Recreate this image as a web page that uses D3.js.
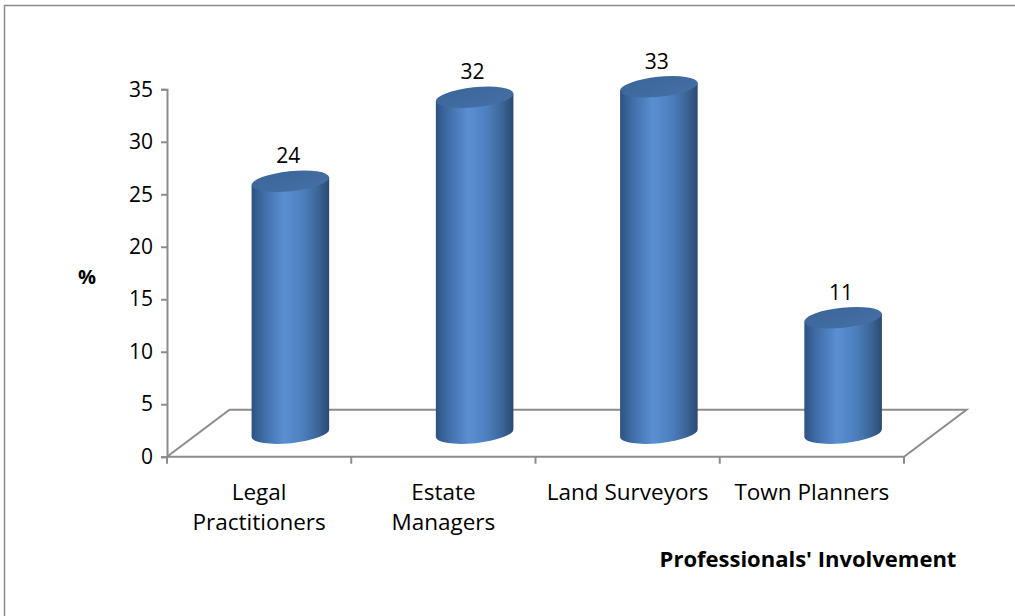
<!DOCTYPE html>
<html>
<head>
<meta charset="utf-8">
<script src="https://cdn.jsdelivr.net/npm/d3@7"></script>
<style>
body { margin:0; background:#fff; }
text { font-family: "Open Sans", "Noto Sans", sans-serif; fill:#000; }
</style>
</head>
<body>
<svg id="chart"></svg>
<script>
var categories = [["Legal", "Practitioners"], ["Estate", "Managers"], ["Land Surveyors"], ["Town Planners"]];
var values = [24, 32, 33, 11];
var yTicks = [0, 5, 10, 15, 20, 25, 30, 35];

var screen = {width:1015, height:616};
var svg = d3.select("#chart")
  .attr("width", screen.width)
  .attr("height", screen.height);

// outer frame
svg.append("rect")
  .attr("x", 4.5).attr("y", 5.5)
  .attr("width", 1100).attr("height", 700)
  .attr("fill", "none").attr("stroke", "#8a8a8a").attr("stroke-width", 1.5);

var plot = {left:167, right:904, top:89.3, bottom:456.7};
var depth = {dx:62.5, dy:-47};

var xScale = d3.scaleBand()
  .domain(d3.range(categories.length))
  .range([plot.left, plot.right]);

var yScale = d3.scaleLinear()
  .domain([0, 35])
  .range([plot.bottom, plot.top]);

// gradients
var defs = svg.append("defs");
var bodyGrad = defs.append("linearGradient").attr("id", "bodyGrad")
  .attr("x1", "0").attr("x2", "1").attr("y1", "0").attr("y2", "0");
[["0", "#2d5283"], ["0.15", "#3f6ca5"], ["0.42", "#5a8fd3"], ["0.65", "#4e80c0"], ["0.85", "#3c6699"], ["1", "#2b4a72"]]
  .forEach(function(s) { bodyGrad.append("stop").attr("offset", s[0]).attr("stop-color", s[1]); });
var capGrad = defs.append("linearGradient").attr("id", "capGrad")
  .attr("x1", "0").attr("x2", "1").attr("y1", "0").attr("y2", "1");
[["0", "#3b6699"], ["1", "#456fa6"]]
  .forEach(function(s) { capGrad.append("stop").attr("offset", s[0]).attr("stop-color", s[1]); });

// floor
var floorPts = [
  [plot.left, plot.bottom],
  [plot.left + depth.dx, plot.bottom + depth.dy],
  [plot.right + depth.dx, plot.bottom + depth.dy],
  [plot.right, plot.bottom]
];
svg.append("path")
  .attr("d", d3.line()(floorPts) + "Z")
  .attr("fill", "none").attr("stroke", "#8c8c8c").attr("stroke-width", 2);

// y axis
var yAxis = d3.axisLeft(yScale).tickValues(yTicks).tickSize(6).tickPadding(8);
var gy = svg.append("g")
  .attr("transform", "translate(" + plot.left + ",0)")
  .call(yAxis);
gy.select(".domain").attr("stroke", "#8c8c8c").attr("stroke-width", 2);
gy.selectAll(".tick line").attr("stroke", "#8c8c8c").attr("stroke-width", 2);
gy.selectAll(".tick text").style("font-size", "21px").attr("fill", "#000")
  .style("font-family", "'Open Sans', sans-serif");

// x ticks
svg.append("g").selectAll("line")
  .data(d3.range(categories.length + 1))
  .enter().append("line")
  .attr("x1", function(i) { return plot.left + i * xScale.bandwidth(); })
  .attr("x2", function(i) { return plot.left + i * xScale.bandwidth(); })
  .attr("y1", plot.bottom).attr("y2", plot.bottom + 7)
  .attr("stroke", "#8c8c8c").attr("stroke-width", 2);

// cylinders
var rx = 39, ry = 10, tilt = -6;
var cosT = Math.cos(tilt * Math.PI / 180), sinT = Math.sin(tilt * Math.PI / 180);
var ox = rx * cosT, oy = rx * sinT;
var bars = svg.append("g").selectAll("g")
  .data(values)
  .enter().append("g");

bars.append("path")
  .attr("fill", "url(#bodyGrad)")
  .attr("d", function(d, i) {
    var cx = xScale(i) + xScale.bandwidth() / 2 + depth.dx / 2;
    var yb = yScale(0) + depth.dy / 2;
    var yt = yScale(d) + depth.dy / 2;
    return "M" + (cx - ox) + "," + (yt - oy) +
      "L" + (cx - ox) + "," + (yb - oy) +
      "A" + rx + "," + ry + " " + tilt + " 0 0 " + (cx + ox) + "," + (yb + oy) +
      "L" + (cx + ox) + "," + (yt + oy) + "Z";
  });

bars.append("ellipse")
  .attr("fill", "url(#capGrad)")
  .attr("rx", rx).attr("ry", ry)
  .attr("transform", function(d, i) {
    var cx = xScale(i) + xScale.bandwidth() / 2 + depth.dx / 2;
    var yt = yScale(d) + depth.dy / 2;
    return "translate(" + cx + "," + yt + ") rotate(" + tilt + ")";
  });

bars.append("text")
  .attr("text-anchor", "middle")
  .style("font-size", "21px")
  .attr("x", function(d, i) { return xScale(i) + xScale.bandwidth() / 2 + depth.dx / 2 - 2; })
  .attr("y", function(d) { return yScale(d) + depth.dy / 2 - 18; })
  .text(function(d) { return d; });

// category labels
var catLabels = svg.append("g").selectAll("text")
  .data(categories)
  .enter().append("text")
  .attr("text-anchor", "middle")
  .style("font-size", "22.5px")
  .attr("x", function(d, i) { return xScale(i) + xScale.bandwidth() / 2; })
  .attr("y", 500);
catLabels.selectAll("tspan")
  .data(function(d) { return d; })
  .enter().append("tspan")
  .attr("x", function() { return d3.select(this.parentNode).attr("x"); })
  .attr("dy", function(d, j) { return j === 0 ? 0 : 30; })
  .text(function(d) { return d; });

// axis titles
svg.append("text")
  .attr("x", 87).attr("y", 284)
  .attr("text-anchor", "middle")
  .style("font-size", "20px").style("font-weight", "bold")
  .text("%");

svg.append("text")
  .attr("x", 808).attr("y", 567)
  .attr("text-anchor", "middle")
  .style("font-size", "22px").style("font-weight", "bold")
  .text("Professionals' Involvement");
</script>
</body>
</html>
